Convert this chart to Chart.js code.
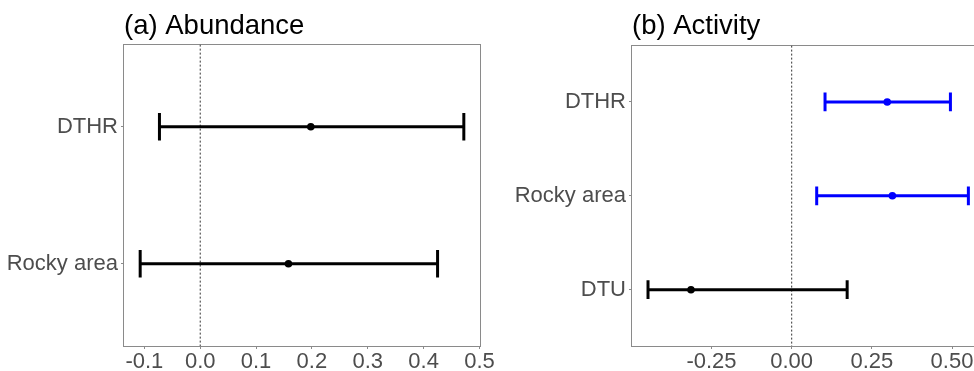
<!DOCTYPE html>
<html><head><meta charset="utf-8">
<script src="https://cdn.jsdelivr.net/npm/chart.js@4"></script>
<style>
html,body{margin:0;padding:0;overflow:hidden;background:#fff;width:974px;height:371px}
#wrap{position:relative;width:974px;height:371px;overflow:hidden;background:#fff}
#c1{position:absolute;left:0;top:0}
#c2{position:absolute;left:490px;top:0}
</style></head><body>
<div id="wrap"><canvas id="c1" width="500" height="371"></canvas><canvas id="c2" width="505" height="371"></canvas></div>
<script>
// ---- Panel (a) ----
const abundanceTitle = '(a) Abundance';
const abundanceCategories = ['DTHR', 'Rocky area'];
const abundanceEstimate = [0.198, 0.158];
const abundanceLower = [-0.073, -0.1075];
const abundanceUpper = [0.472, 0.425];
const abundanceColors = ['#000000', '#000000'];
const abundanceTicks = [-0.1, 0, 0.1, 0.2, 0.3, 0.4, 0.5];
const abundanceTickLabels = ['-0.1', '0.0', '0.1', '0.2', '0.3', '0.4', '0.5'];

// ---- Panel (b) ----
const activityTitle = '(b) Activity';
const activityCategories = ['DTHR', 'Rocky area', 'DTU'];
const activityEstimate = [0.298, 0.314, -0.314];
const activityLower = [0.104, 0.078, -0.448];
const activityUpper = [0.495, 0.551, 0.173];
const activityColors = ['#0000FF', '#0000FF', '#000000'];
const activityTicks = [-0.25, 0, 0.25, 0.5];
const activityTickLabels = ['-0.25', '0.00', '0.25', '0.50'];

const FONT = "'Liberation Sans', Arial, sans-serif";
const GREY = '#8a8a8a';
const TEXT = '#4D4D4D';

const framePlugin = {
  id: 'frame',
  beforeDatasetsDraw(chart) {
    const { ctx, chartArea: a } = chart;
    ctx.save();
    ctx.strokeStyle = GREY;
    ctx.lineWidth = 1;
    ctx.strokeRect(Math.round(a.left) - 0.5, Math.round(a.top) - 0.5,
      Math.round(a.right) - Math.round(a.left) + 1, Math.round(a.bottom) - Math.round(a.top) + 1);
    ctx.restore();
  }
};

function makeChart(id, cfg) {
  const n = cfg.categories.length;
  const lo = Math.min(...cfg.lower), hi = Math.max(...cfg.upper);
  const xr = hi - lo;
  const xmin = lo - 0.05 * xr, xmax = hi + 0.05 * xr;
  const ymin = 0.4, ymax = n + 0.6;
  const capRadius = (c) => {
    const s = c.chart.scales.y;
    return Math.abs(s.getPixelForValue(1.1) - s.getPixelForValue(1));
  };
  const datasets = [];
  datasets.push({
    data: [{ x: 0, y: ymin }, { x: 0, y: ymax }],
    showLine: true, borderColor: '#333333', borderWidth: 1, borderDash: [2, 2],
    pointRadius: 0, order: 10
  });
  cfg.categories.forEach((c, i) => {
    datasets.push({
      data: [{ x: cfg.lower[i], y: i + 1 }, { x: cfg.upper[i], y: i + 1 }],
      showLine: true, borderColor: cfg.colors[i], borderWidth: 3, borderCapStyle: 'butt',
      pointStyle: 'line', pointRotation: 90, pointRadius: capRadius,
      pointBorderWidth: 3, pointBorderColor: cfg.colors[i], pointBackgroundColor: cfg.colors[i],
      order: 2
    });
  });
  datasets.push({
    data: cfg.estimate.map((v, i) => ({ x: v, y: i + 1 })),
    pointRadius: 3.8, pointBackgroundColor: cfg.colors, pointBorderColor: cfg.colors,
    pointBorderWidth: 0, showLine: false, order: 1
  });
  return new Chart(document.getElementById(id), {
    type: 'scatter',
    data: { datasets },
    plugins: [framePlugin],
    options: {
      responsive: false, animation: false, events: [],
      layout: { padding: { left: 0, right: cfg.rightPad, top: 0, bottom: 0 } },
      plugins: {
        legend: { display: false }, tooltip: { enabled: false },
        title: {
          display: true, text: cfg.title, align: 'start', fullSize: false, color: '#000000',
          font: { family: FONT, size: 27.5, weight: 'normal' },
          padding: { top: 10, bottom: cfg.titleBottom }
        }
      },
      scales: {
        x: {
          type: 'linear', min: xmin, max: xmax,
          afterBuildTicks: (s) => { s.ticks = cfg.ticks.map(v => ({ value: v })); },
          afterFit: (s) => { s.height = 25; s.paddingLeft = 0; s.paddingRight = 0; },
          ticks: {
            autoSkip: false, maxRotation: 0, padding: 0, color: TEXT,
            font: { family: FONT, size: 22 },
            callback: (v) => { const k = cfg.ticks.indexOf(v); return k >= 0 ? cfg.tickLabels[k] : ''; }
          },
          grid: { display: true, drawOnChartArea: false, tickLength: 3, color: GREY, lineWidth: 1 },
          border: { display: false }
        },
        y: {
          type: 'linear', reverse: true, min: ymin, max: ymax,
          afterBuildTicks: (s) => { s.ticks = cfg.categories.map((c, i) => ({ value: i + 1 })); },
          afterFit: (s) => { s.width = cfg.yWidth; s.paddingTop = 0; s.paddingBottom = 0; },
          ticks: {
            autoSkip: false, padding: 3, color: TEXT,
            font: { family: FONT, size: 22 },
            callback: (v) => cfg.categories[Math.round(v) - 1]
          },
          grid: { display: true, drawOnChartArea: false, tickLength: 3, color: GREY, lineWidth: 1 },
          border: { display: false }
        }
      }
    }
  });
}

makeChart('c1', {
  title: abundanceTitle, categories: abundanceCategories, estimate: abundanceEstimate,
  lower: abundanceLower, upper: abundanceUpper, colors: abundanceColors,
  ticks: abundanceTicks, tickLabels: abundanceTickLabels,
  yWidth: 124, rightPad: 20, titleBottom: 1.6
});
makeChart('c2', {
  title: activityTitle, categories: activityCategories, estimate: activityEstimate,
  lower: activityLower, upper: activityUpper, colors: activityColors,
  ticks: activityTicks, tickLabels: activityTickLabels,
  yWidth: 142, rightPad: 10.6, titleBottom: 2.6
});
</script>
</body></html>
